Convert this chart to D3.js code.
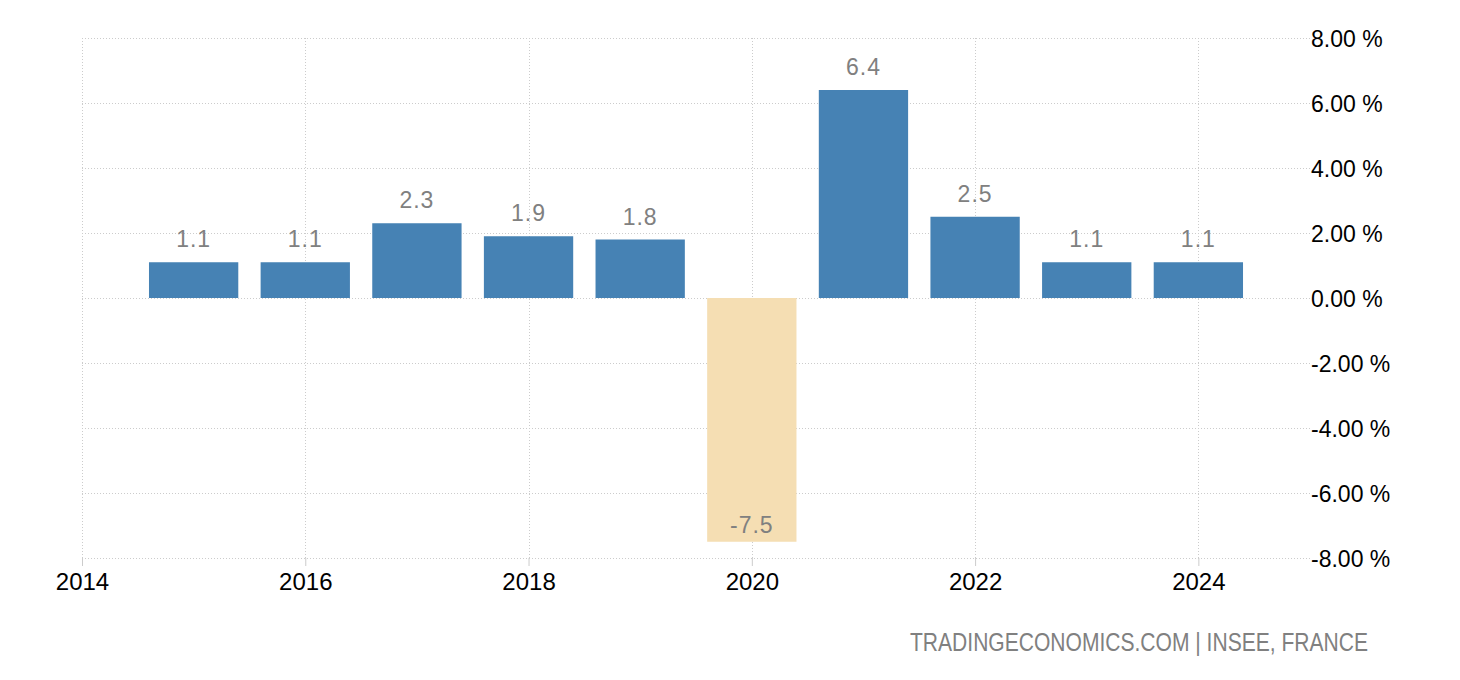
<!DOCTYPE html>
<html>
<head>
<meta charset="utf-8">
<script src="https://cdn.jsdelivr.net/npm/d3@7"></script>
<style>
  html, body { margin: 0; padding: 0; background: #fff; }
  svg { display: block; }
  text { font-family: "Liberation Sans", Arial, sans-serif; }
</style>
</head>
<body>
<svg id="chart" width="1460" height="680"></svg>
<script>
const years = [2015, 2016, 2017, 2018, 2019, 2020, 2021, 2022, 2023, 2024];
const values = [1.1, 1.1, 2.3, 1.9, 1.8, -7.5, 6.4, 2.5, 1.1, 1.1];
const xTickYears = [2014, 2016, 2018, 2020, 2022, 2024];
const yTickValues = [8, 6, 4, 2, 0, -2, -4, -6, -8];
const sourceText = "TRADINGECONOMICS.COM | INSEE, FRANCE";

const svg = d3.select("#chart");
const x = d3.scaleLinear().domain([2014, 2025]).range([82, 1310]);
const y = d3.scaleLinear().domain([-8, 8]).range([558, 38]);
const gridColor = "#cccccc";
const fmt = (f) => (v) => d3.format(f)(v).replace("\u2212", "-");

// horizontal grid
svg.append("g").selectAll("line").data(yTickValues).join("line")
  .attr("x1", x(2014)).attr("x2", x(2025))
  .attr("y1", d => y(d) + 0.5).attr("y2", d => y(d) + 0.5)
  .attr("stroke", gridColor).attr("stroke-width", 1)
  .attr("stroke-dasharray", "1,2");

// vertical grid
svg.append("g").selectAll("line").data(xTickYears).join("line")
  .attr("x1", d => Math.round(x(d)) + 0.5).attr("x2", d => Math.round(x(d)) + 0.5)
  .attr("y1", y(8)).attr("y2", y(-8))
  .attr("stroke", gridColor).attr("stroke-width", 1)
  .attr("stroke-dasharray", "1,2");

// x axis
const xAxis = d3.axisBottom(x).tickValues(xTickYears).tickFormat(d3.format("d"))
  .tickSize(8).tickPadding(7);
const gx = svg.append("g").attr("transform", `translate(0,${y(-8)})`).call(xAxis);
gx.select(".domain").remove();
gx.selectAll(".tick line").attr("stroke", gridColor);
gx.selectAll(".tick text").attr("fill", "#000").style("font-size", "24px")
  .style("font-family", "'Liberation Sans', Arial, sans-serif");

// y axis (right)
const yAxis = d3.axisRight(y).tickValues(yTickValues)
  .tickFormat(d => fmt(".2f")(d) + " %").tickSize(0).tickPadding(0);
const gy = svg.append("g").attr("transform", `translate(1311,0)`).call(yAxis);
gy.select(".domain").remove();
gy.selectAll(".tick text").attr("fill", "#000").style("font-size", "23px")
  .attr("dy", "0.35em")
  .style("font-family", "'Liberation Sans', Arial, sans-serif");

// bars
const barW = x(2014.8) - x(2014);
svg.append("g").selectAll("rect").data(years).join("rect")
  .attr("x", (d) => x(d) - barW / 2)
  .attr("width", barW)
  .attr("y", (d, i) => y(Math.max(0, values[i])))
  .attr("height", (d, i) => Math.abs(y(values[i]) - y(0)))
  .attr("fill", (d, i) => values[i] >= 0 ? "#4682b4" : "#f5deb3");

// value labels
svg.append("g").selectAll("text").data(years).join("text")
  .attr("x", d => x(d))
  .attr("y", (d, i) => values[i] >= 0 ? y(values[i]) - 15 : y(values[i]) - 9)
  .attr("text-anchor", "middle")
  .attr("fill", "#808080")
  .style("font-size", "23px")
  .style("letter-spacing", "1px")
  .text((d, i) => fmt(".1f")(values[i]));

// source
svg.append("text")
  .attr("x", 910).attr("y", 651)
  .attr("textLength", 458)
  .attr("lengthAdjust", "spacingAndGlyphs")
  .attr("fill", "#808080")
  .style("font-size", "25px")
  .text(sourceText);
</script>
</body>
</html>
